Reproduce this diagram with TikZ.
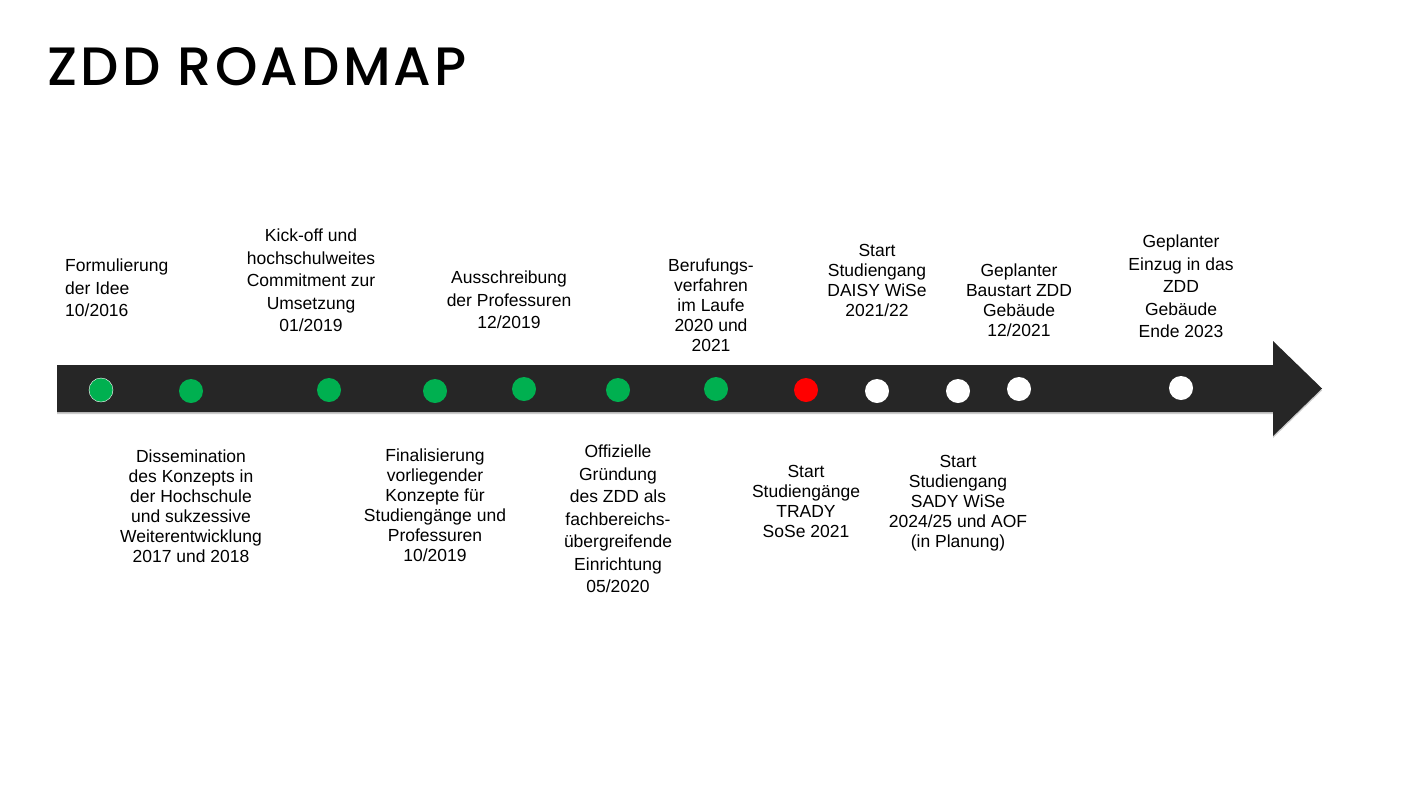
\documentclass[tikz,border=0pt]{standalone}
\usepackage{fontspec}
\setmainfont{Liberation Sans}
\newfontfamily\titlefont{Poppins Medium}[LetterSpace=6]
\usepackage{xcolor}
\definecolor{balken}{HTML}{262626}
\definecolor{gruen}{HTML}{00B050}
\definecolor{rot}{HTML}{FF0000}

\begin{document}
\begin{tikzpicture}[x=1pt,y=-1pt,
    punkt/.style={circle, minimum size=24pt, inner sep=0pt},
    ereignis/.style={align=center, inner sep=0pt, font=\fontsize{17.5}{20}\selectfont},
    ereignisweit/.style={align=center, inner sep=0pt, font=\fontsize{17.5}{22.5}\selectfont},
]
\useasboundingbox (0,0) rectangle (1410,793);

\node [anchor=base west, inner sep=0pt] (titel) at (47,85){\titlefont\fontsize{54}{60}\selectfont ZDD ROADMAP};

% Zeitstrahl
\fill[black!20] (57,367) -- (1273,367) -- (1273,343) -- (1322,390.5) -- (1273,438) -- (1273,414) -- (57,414) -- cycle;
\fill[balken] (57,365) -- (1273,365) -- (1273,341) -- (1322,388.5) -- (1273,436) -- (1273,412) -- (57,412) -- cycle;

\node [punkt, fill=gruen, draw=white, thin] (idee) at (101,390){};
\node [punkt, fill=gruen] (diss) at (191,391){};
\node [punkt, fill=gruen] (kick) at (329,390){};
\node [punkt, fill=gruen] (final) at (435,391){};
\node [punkt, fill=gruen] (aus) at (524,389){};
\node [punkt, fill=gruen] (grund) at (618,390){};
\node [punkt, fill=gruen] (beruf) at (716,389){};
\node [punkt, fill=rot] (trady) at (806,390){};
\node [punkt, fill=white] (daisy) at (877,391){};
\node [punkt, fill=white] (sady) at (958,391){};
\node [punkt, fill=white] (bau) at (1019,389){};
\node [punkt, fill=white] (einzug) at (1181,388){};

% oben
\node [ereignisweit, anchor=north west, align=left] (t-idee) at (65,259){Formulierung\\der Idee\\10/2016};
\node [ereignisweit, anchor=north] (t-kick) at (311,229){Kick-off und\\hochschulweites\\Commitment zur\\Umsetzung\\01/2019};
\node [ereignisweit, anchor=north] (t-aus) at (509,271){Ausschreibung\\der Professuren\\12/2019};
\node [ereignis, anchor=north] (t-beruf) at (711,259){Berufungs-\\verfahren\\im Laufe\\2020 und\\2021};
\node [ereignis, anchor=north] (t-daisy) at (877,244){Start\\Studiengang\\DAISY WiSe\\2021/22};
\node [ereignis, anchor=north] (t-bau) at (1019,264){Geplanter\\Baustart ZDD\\Gebäude\\12/2021};
\node [ereignisweit, anchor=north] (t-einzug) at (1181,235){Geplanter\\Einzug in das\\ZDD\\Gebäude\\Ende 2023};

% unten
\node [ereignis, anchor=north] (t-diss) at (191,450){Dissemination\\des Konzepts in\\der Hochschule\\und sukzessive\\Weiterentwicklung\\2017 und 2018};
\node [ereignis, anchor=north] (t-final) at (435,449){Finalisierung\\vorliegender\\Konzepte für\\Studiengänge und\\Professuren\\10/2019};
\node [ereignisweit, anchor=north] (t-grund) at (618,445){Offizielle\\Gründung\\des ZDD als\\fachbereichs-\\übergreifende\\Einrichtung\\05/2020};
\node [ereignis, anchor=north] (t-trady) at (806,465){Start\\Studiengänge\\TRADY\\SoSe 2021};
\node [ereignis, anchor=north] (t-sady) at (958,455){Start\\Studiengang\\SADY WiSe\\2024/25 und AOF\\(in Planung)};

\end{tikzpicture}
\end{document}
